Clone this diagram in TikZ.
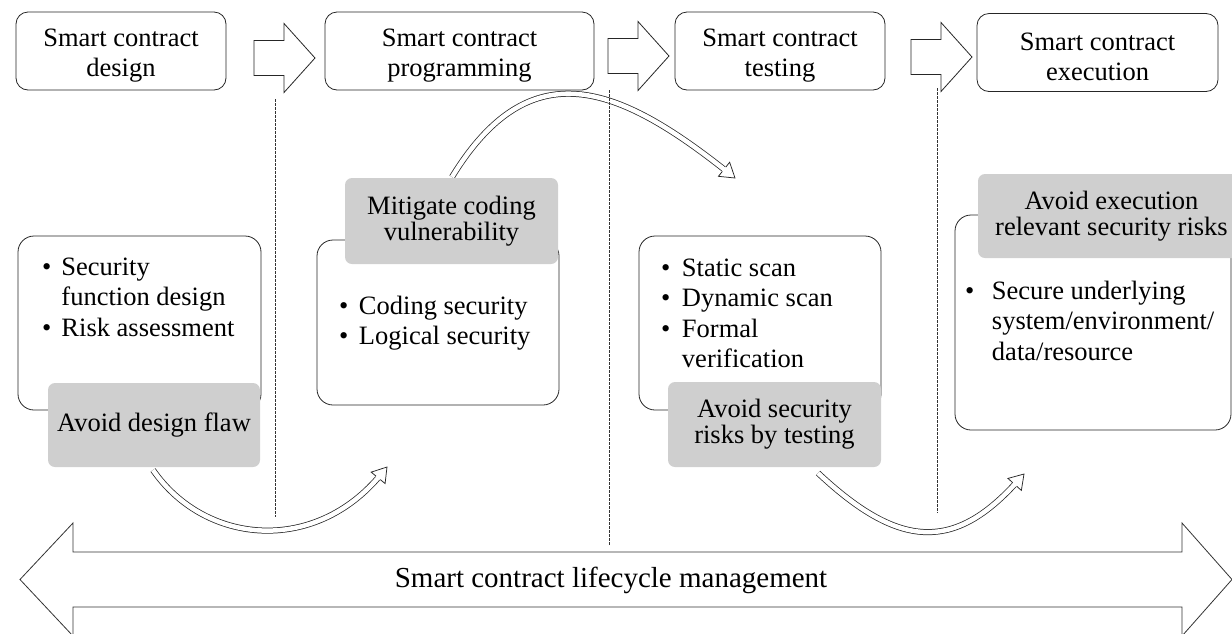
\documentclass[tikz,border=0pt]{standalone}
\usepackage{fontspec}
\setmainfont{Liberation Serif}
\begin{document}
\begin{tikzpicture}[x=1pt,y=-1pt,
  txt/.style={font=\fontsize{26.5}{30}\selectfont, inner sep=0pt, text=black},
  topbox/.style={draw=black!85, line width=0.8pt, rounded corners=12pt, minimum height=78pt, inner sep=0pt},
  blockarrow/.style={draw=black!85, line width=0.8pt, fill=white, line join=miter},
  contentbox/.style={draw=black!85, line width=0.8pt, rounded corners=16pt, inner sep=0pt},
  graybox/.style={font=\fontsize{26.5}{26}\selectfont, inner sep=0pt, text=black, fill=black!19, rounded corners=7pt, align=center},
  list/.style={font=\fontsize{26.5}{30.5}\selectfont, inner sep=0pt, text=black, anchor=base west},
  sep/.style={draw=black!80, line width=0.6pt, dash pattern=on 2.5pt off 1.5pt},
  bigarrow/.style={draw=black!80, line width=0.8pt, fill=white, line join=miter},
  hollow/.style={draw=black!85, line width=0.75pt, double=white, double distance=4.5pt, shorten >=9pt},
  hhead/.pic={
    \fill[white] (0.5,0) -- (-14.5,9.5) -- (-14.5,-9.5) -- cycle;
    \draw[black!85, line width=0.75pt, line join=miter] (-14,2.7) -- (-14,9) -- (0,0) -- (-14,-9) -- (-14,-2.7);
  }
]
\useasboundingbox (0,0) rectangle (1232,633);

% top row
\node[topbox, minimum width=210pt] (t1) at (121,51) {};
\node[topbox, minimum width=269pt] (t2) at (459.5,51) {};
\node[topbox, minimum width=210pt] (t3) at (780,51) {};
\node[topbox, minimum width=241pt] (t4) at (1097.5,52.5) {};
\node[txt, align=center] (t1t) at (121,55.5) {Smart contract\\design};
\node[txt, align=center] (t2t) at (459.5,55.5) {Smart contract\\programming};
\node[txt, align=center] (t3t) at (780,55.5) {Smart contract\\testing};
\node[txt, align=center] (t4t) at (1097.5,57) {Smart contract\\execution};

\coordinate (a1) at (254,58);
\coordinate (a2) at (608,56);
\coordinate (a3) at (911,57);
\foreach \a in {a1,a2,a3}
  \draw[blockarrow] (\a) ++(0,-17.5) -- ++(30,0) -- ++(0,-17) -- ++(31,34.5) -- ++(-31,34.5) -- ++(0,-17) -- ++(-30,0) -- cycle;

% curved arrows
\coordinate (c1s) at (153,470);
\coordinate (c1e) at (387,467);
\coordinate (c2s) at (452,177);
\coordinate (c2e) at (735,178);
\coordinate (c3s) at (818,473);
\coordinate (c3e) at (1024,474);
\draw[hollow] (c1s) .. controls (205,545) and (315,555) .. (c1e);
\draw[hollow] (c2s) .. controls (530,49.5) and (618,85) .. (c2e);
\draw[hollow] (c3s) .. controls (900,550) and (955,551) .. (c3e);
\pic[rotate=50.7] at (c1e) {hhead};
\pic[rotate=-38.5] at (c2e) {hhead};
\pic[rotate=48.1] at (c3e) {hhead};

% content boxes
\node[contentbox, minimum width=243pt, minimum height=174pt] (b1) at (139.5,323) {};
\node[contentbox, minimum width=242pt, minimum height=165pt] (b2) at (438,322.5) {};
\node[contentbox, minimum width=242pt, minimum height=174pt] (b3) at (760,323) {};
\node[contentbox, minimum width=276pt, minimum height=215pt] (b4) at (1093,322.5) {};

\node[graybox, minimum width=212pt, minimum height=84pt] (g1) at (154,425) {Avoid design flaw};
\node[graybox, minimum width=213pt, minimum height=86pt] (g2) at (451.5,221) {Mitigate coding\\vulnerability};
\node[graybox, minimum width=213pt, minimum height=85pt] (g3) at (774.5,424.5) {Avoid security\\risks by testing};
\node[graybox, minimum width=267pt, minimum height=84pt] (g4) at (1111.5,216) {Avoid execution\\relevant security risks};

\node[list] (l1) at (42,275) {\begin{tabular}[t]{@{}l@{\hspace{10pt}}l@{}}\textbullet & Security\\ & function design\\ \textbullet & Risk assessment\end{tabular}};
\node[list] (l2) at (339,314) {\begin{tabular}[t]{@{}l@{\hspace{10.5pt}}l@{}}\textbullet & Coding security\\ \textbullet & Logical security\end{tabular}};
\node[list] (l3) at (661,276) {\begin{tabular}[t]{@{}l@{\hspace{11.5pt}}l@{}}\textbullet & Static scan\\ \textbullet & Dynamic scan\\ \textbullet & Formal\\ & verification\end{tabular}};
\node[list] (l4) at (965,299) {\begin{tabular}[t]{@{}l@{\hspace{17.5pt}}l@{}}\textbullet & Secure underlying\\ & system/environment/\\ & data/resource\end{tabular}};

% separators
\draw[sep] (275,99) -- (275,517);
\draw[sep] (609,90) -- (609,545);
\draw[sep] (937,88) -- (937,513);

% lifecycle arrow
\draw[bigarrow] (20,579.5) -- (73,523) -- (73,552) -- (1182,552) -- (1182,523) -- (1232,579.5) -- (1182,636) -- (1182,607) -- (73,607) -- (73,636) -- cycle;
\node[font=\fontsize{29}{32}\selectfont, text=black, inner sep=0pt] (life) at (611,580) {Smart contract lifecycle management};
\end{tikzpicture}
\end{document}
